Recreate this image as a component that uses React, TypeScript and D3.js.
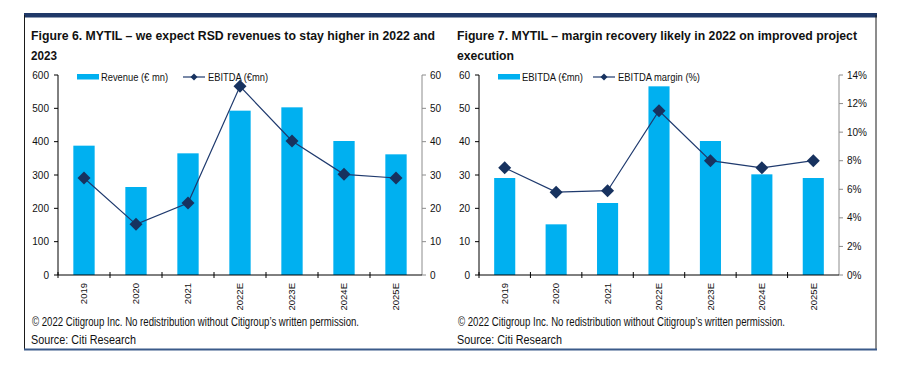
import * as d3 from "d3";

const YEARS = ["2019", "2020", "2021", "2022E", "2023E", "2024E", "2025E"];
const REVENUE = [388, 264, 365, 493, 503, 402, 362];
const EBITDA = [29.1, 15.2, 21.6, 56.6, 40.2, 30.2, 29.1];
const MARGIN_PCT = [7.5, 5.8, 5.9, 11.5, 8.0, 7.5, 8.0];

const REV_TICKS = [0, 100, 200, 300, 400, 500, 600];
const EBITDA_TICKS = [0, 10, 20, 30, 40, 50, 60];
const MARGIN_TICKS = [0, 2, 4, 6, 8, 10, 12, 14];

const BAR_COLOR = "#00B0F0";
const LINE_COLOR = "#1F3A6E";
const DOT_COLOR = "#17325F";
const FONT = "Arial, 'Liberation Sans', sans-serif";

const TOP = 75;
const BOTTOM = 275;

type ChartProps = {
  left: number;
  right: number;
  bars: number[];
  line: number[];
  barMax: number;
  lineMax: number;
  barTicks: number[];
  lineTicks: number[];
  lineFmt: (v: number) => string;
  barLabel: string;
  barLabelLen: number;
  lineLabel: string;
  lineLabelLen: number;
  lineLegendX: number;
};

const diamond = (cx: number, cy: number, r: number) =>
  `M${cx},${cy - r}L${cx + r},${cy}L${cx},${cy + r}L${cx - r},${cy}Z`;

const DualChart = ({
  left,
  right,
  bars,
  line,
  barMax,
  lineMax,
  barTicks,
  lineTicks,
  lineFmt,
  barLabel,
  barLabelLen,
  lineLabel,
  lineLabelLen,
  lineLegendX,
}: ChartProps) => {
  const x = d3.scaleBand().domain(YEARS).range([left, right]).padding(0);
  const yBar = d3.scaleLinear().domain([0, barMax]).range([BOTTOM, TOP]);
  const yLine = d3.scaleLinear().domain([0, lineMax]).range([BOTTOM, TOP]);
  const bw = x.bandwidth() * 0.41;
  const cx = (d: string) => (x(d) ?? 0) + x.bandwidth() / 2;

  const path = d3
    .line<number>()
    .x((_, i) => cx(YEARS[i]))
    .y((d) => yLine(d))(line);

  const swatchX = left + 19;

  return (
    <g fontFamily={FONT}>
      {bars.map((v, i) => (
        <rect
          key={YEARS[i]}
          x={cx(YEARS[i]) - bw / 2}
          y={yBar(v)}
          width={bw}
          height={BOTTOM - yBar(v)}
          fill={BAR_COLOR}
        />
      ))}

      {/* left axis */}
      <line x1={left} x2={left} y1={TOP} y2={BOTTOM} stroke="#000" />
      {barTicks.map((t) => (
        <g key={t}>
          <line x1={left - 4} x2={left} y1={yBar(t)} y2={yBar(t)} stroke="#000" />
          <text
            x={left - 9}
            y={yBar(t)}
            dy="0.35em"
            textAnchor="end"
            fontSize={10}
            fill="#111"
          >
            {t}
          </text>
        </g>
      ))}

      {/* right axis */}
      <line x1={right} x2={right} y1={TOP} y2={BOTTOM} stroke="#8c8c8c" />
      {lineTicks.map((t) => (
        <g key={t}>
          <line x1={right} x2={right + 4} y1={yLine(t)} y2={yLine(t)} stroke="#8c8c8c" />
          <text x={right + 8} y={yLine(t)} dy="0.35em" fontSize={10} fill="#111">
            {lineFmt(t)}
          </text>
        </g>
      ))}

      {/* x axis */}
      <line x1={left} x2={right} y1={BOTTOM} y2={BOTTOM} stroke="#000" />
      {YEARS.map((d) => (
        <line
          key={d}
          x1={x(d)}
          x2={x(d)}
          y1={BOTTOM - 3}
          y2={BOTTOM + 3}
          stroke="#000"
        />
      ))}
      {YEARS.map((d) => (
        <text
          key={d}
          transform={`translate(${cx(d)},${BOTTOM + 8}) rotate(-90)`}
          dy="0.35em"
          textAnchor="end"
          fontSize={9.5}
          fill="#111"
        >
          {d}
        </text>
      ))}

      {/* line series */}
      <path d={path ?? ""} fill="none" stroke={LINE_COLOR} strokeWidth={1.2} />
      {line.map((v, i) => (
        <path key={i} d={diamond(cx(YEARS[i]), yLine(v), 6.5)} fill={DOT_COLOR} />
      ))}

      {/* legend */}
      <rect x={swatchX} y={74} width={22} height={5.5} fill={BAR_COLOR} />
      <text
        x={swatchX + 24}
        y={81}
        fontSize={10.5}
        fill="#111"
        textLength={barLabelLen}
        lengthAdjust="spacingAndGlyphs"
      >
        {barLabel}
      </text>
      <line
        x1={lineLegendX}
        x2={lineLegendX + 22}
        y1={77}
        y2={77}
        stroke={LINE_COLOR}
        strokeWidth={1.2}
      />
      <path d={diamond(lineLegendX + 11, 77, 3.5)} fill={DOT_COLOR} />
      <text
        x={lineLegendX + 25}
        y={81}
        fontSize={10.5}
        fill="#111"
        textLength={lineLabelLen}
        lengthAdjust="spacingAndGlyphs"
      >
        {lineLabel}
      </text>
    </g>
  );
};

const Titles = ({
  x,
  line1,
  line1Len,
  line2,
  line2Len,
}: {
  x: number;
  line1: string;
  line1Len: number;
  line2: string;
  line2Len: number;
}) => (
  <g fontFamily={FONT} fill="#111">
    <text
      x={x}
      y={40}
      fontSize={13}
      fontWeight="bold"
      textLength={line1Len}
      lengthAdjust="spacingAndGlyphs"
    >
      {line1}
    </text>
    <text
      x={x}
      y={60}
      fontSize={13}
      fontWeight="bold"
      textLength={line2Len}
      lengthAdjust="spacingAndGlyphs"
    >
      {line2}
    </text>
    <text
      x={x + 1}
      y={326}
      fontSize={12}
      textLength={327}
      lengthAdjust="spacingAndGlyphs"
    >
      © 2022 Citigroup Inc. No redistribution without Citigroup’s written permission.
    </text>
    <text
      x={x}
      y={344}
      fontSize={12.5}
      textLength={105}
      lengthAdjust="spacingAndGlyphs"
    >
      Source: Citi Research
    </text>
  </g>
);

export default function App() {
  return (
    <div style={{ position: "absolute", left: 0, top: 0 }}>
      <svg width={898} height={370} viewBox="0 0 898 370" style={{ display: "block" }}>
        <rect width={898} height={370} fill="#fff" />
        {/* frame */}
        <rect x={24} y={13} width={853} height={4.5} fill="#1F3868" />
        <line x1={24.5} x2={24.5} y1={15} y2={350} stroke="#1a1a1a" />
        <line x1={876} x2={876} y1={15} y2={350} stroke="#1a1a1a" />
        <line x1={24} x2={877} y1={349.5} y2={349.5} stroke="#3B5A8A" strokeWidth={2} />

        <Titles
          x={31}
          line1="Figure 6. MYTIL – we expect RSD revenues to stay higher in 2022 and"
          line1Len={404}
          line2="2023"
          line2Len={26}
        />
        <Titles
          x={457}
          line1="Figure 7. MYTIL – margin recovery likely in 2022 on improved project"
          line1Len={400}
          line2="execution"
          line2Len={57}
        />

        <DualChart
          left={58}
          right={422}
          bars={REVENUE}
          line={EBITDA}
          barMax={600}
          lineMax={60}
          barTicks={REV_TICKS}
          lineTicks={EBITDA_TICKS}
          lineFmt={(v) => `${v}`}
          barLabel="Revenue (€ mn)"
          barLabelLen={67}
          lineLabel="EBITDA (€mn)"
          lineLabelLen={60}
          lineLegendX={183}
        />
        <DualChart
          left={479}
          right={839}
          bars={EBITDA}
          line={MARGIN_PCT}
          barMax={60}
          lineMax={14}
          barTicks={EBITDA_TICKS}
          lineTicks={MARGIN_TICKS}
          lineFmt={(v) => `${v}%`}
          barLabel="EBITDA (€mn)"
          barLabelLen={61}
          lineLabel="EBITDA margin (%)"
          lineLabelLen={82}
          lineLegendX={593}
        />
      </svg>
    </div>
  );
}
